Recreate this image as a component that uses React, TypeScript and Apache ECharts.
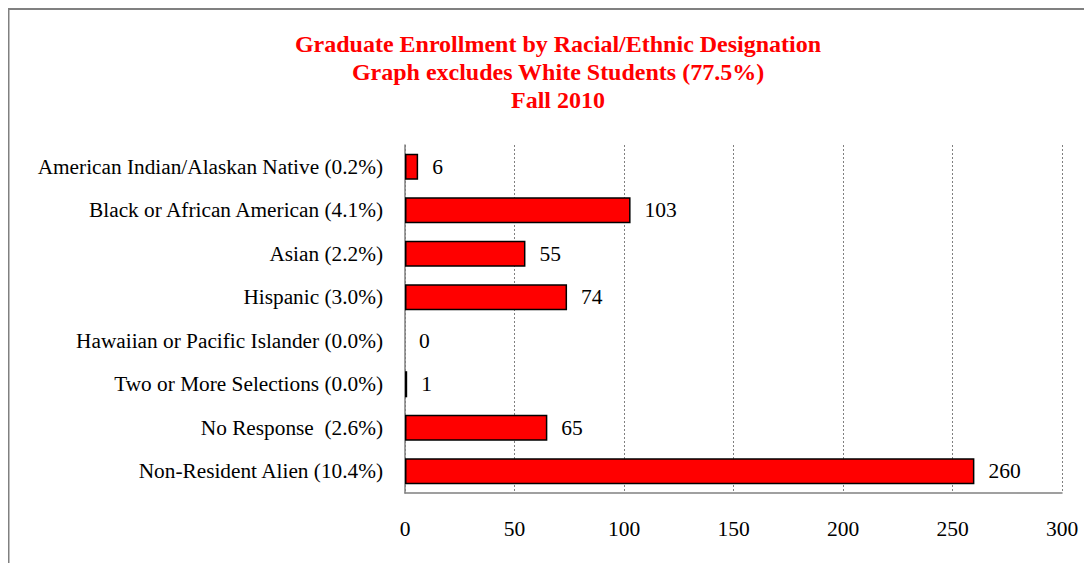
import React, { useEffect, useRef } from "react";
import * as echarts from "echarts";

const categories = [
  "American Indian/Alaskan Native (0.2%)",
  "Black or African American (4.1%)",
  "Asian (2.2%)",
  "Hispanic (3.0%)",
  "Hawaiian or Pacific Islander (0.0%)",
  "Two or More Selections (0.0%)",
  "No Response  (2.6%)",
  "Non-Resident Alien (10.4%)",
];
const values = [6, 103, 55, 74, 0, 1, 65, 260];
const titleLines = [
  "Graduate Enrollment by Racial/Ethnic Designation",
  "Graph excludes White Students (77.5%)",
  "Fall 2010",
];

const FONT = "'Liberation Serif', 'Times New Roman', serif";

export default function App() {
  const ref = useRef<HTMLDivElement>(null);
  useEffect(() => {
    if (!ref.current) return;
    const chart = echarts.init(ref.current, null, { renderer: "svg" });
    chart.setOption({
      animation: false,
      backgroundColor: "#ffffff",
      graphic: [
        {
          type: "rect",
          shape: { x: 0.5, y: 1, width: 3000, height: 3000 },
          style: { fill: "none", stroke: "#808080", lineWidth: 2 },
          silent: true,
        },
        {
          type: "text",
          x: 550,
          y: 22,
          style: {
            text: titleLines.join("\n"),
            font: `bold 24px ${FONT}`,
            fill: "#ff0000",
            align: "center",
            verticalAlign: "top",
            lineHeight: 28,
          },
        },
      ],
      grid: { left: 397, right: 30, top: 137, bottom: 70, containLabel: false },
      xAxis: {
        type: "value",
        min: 0,
        max: 300,
        interval: 50,
        axisLine: { show: true, lineStyle: { color: "#808080", width: 1.5 } },
        axisTick: { show: false },
        axisLabel: {
          margin: 25,
          fontFamily: FONT,
          fontSize: 21.5,
          color: "#000",
        },
        splitLine: {
          show: true,
          lineStyle: { color: "#808080", type: [2, 2], width: 1 },
        },
      },
      yAxis: {
        type: "category",
        data: categories,
        inverse: true,
        axisLine: { show: true, lineStyle: { color: "#808080", width: 1.5 } },
        axisTick: { show: false },
        axisLabel: {
          margin: 22,
          fontFamily: FONT,
          fontSize: 21.3,
          color: "#000",
        },
      },
      series: [
        {
          type: "bar",
          data: values.map((v) =>
            v === 0 ? { value: v, itemStyle: { borderWidth: 0 } } : v
          ),
          barWidth: "60%",
          itemStyle: { color: "#ff0000", borderColor: "#000", borderWidth: 1.5 },
          label: {
            show: true,
            position: "right",
            distance: 14,
            fontFamily: FONT,
            fontSize: 21.5,
            color: "#000",
          },
        },
      ],
    });
    return () => chart.dispose();
  }, []);
  return <div ref={ref} style={{ width: 1084, height: 555 }} />;
}
